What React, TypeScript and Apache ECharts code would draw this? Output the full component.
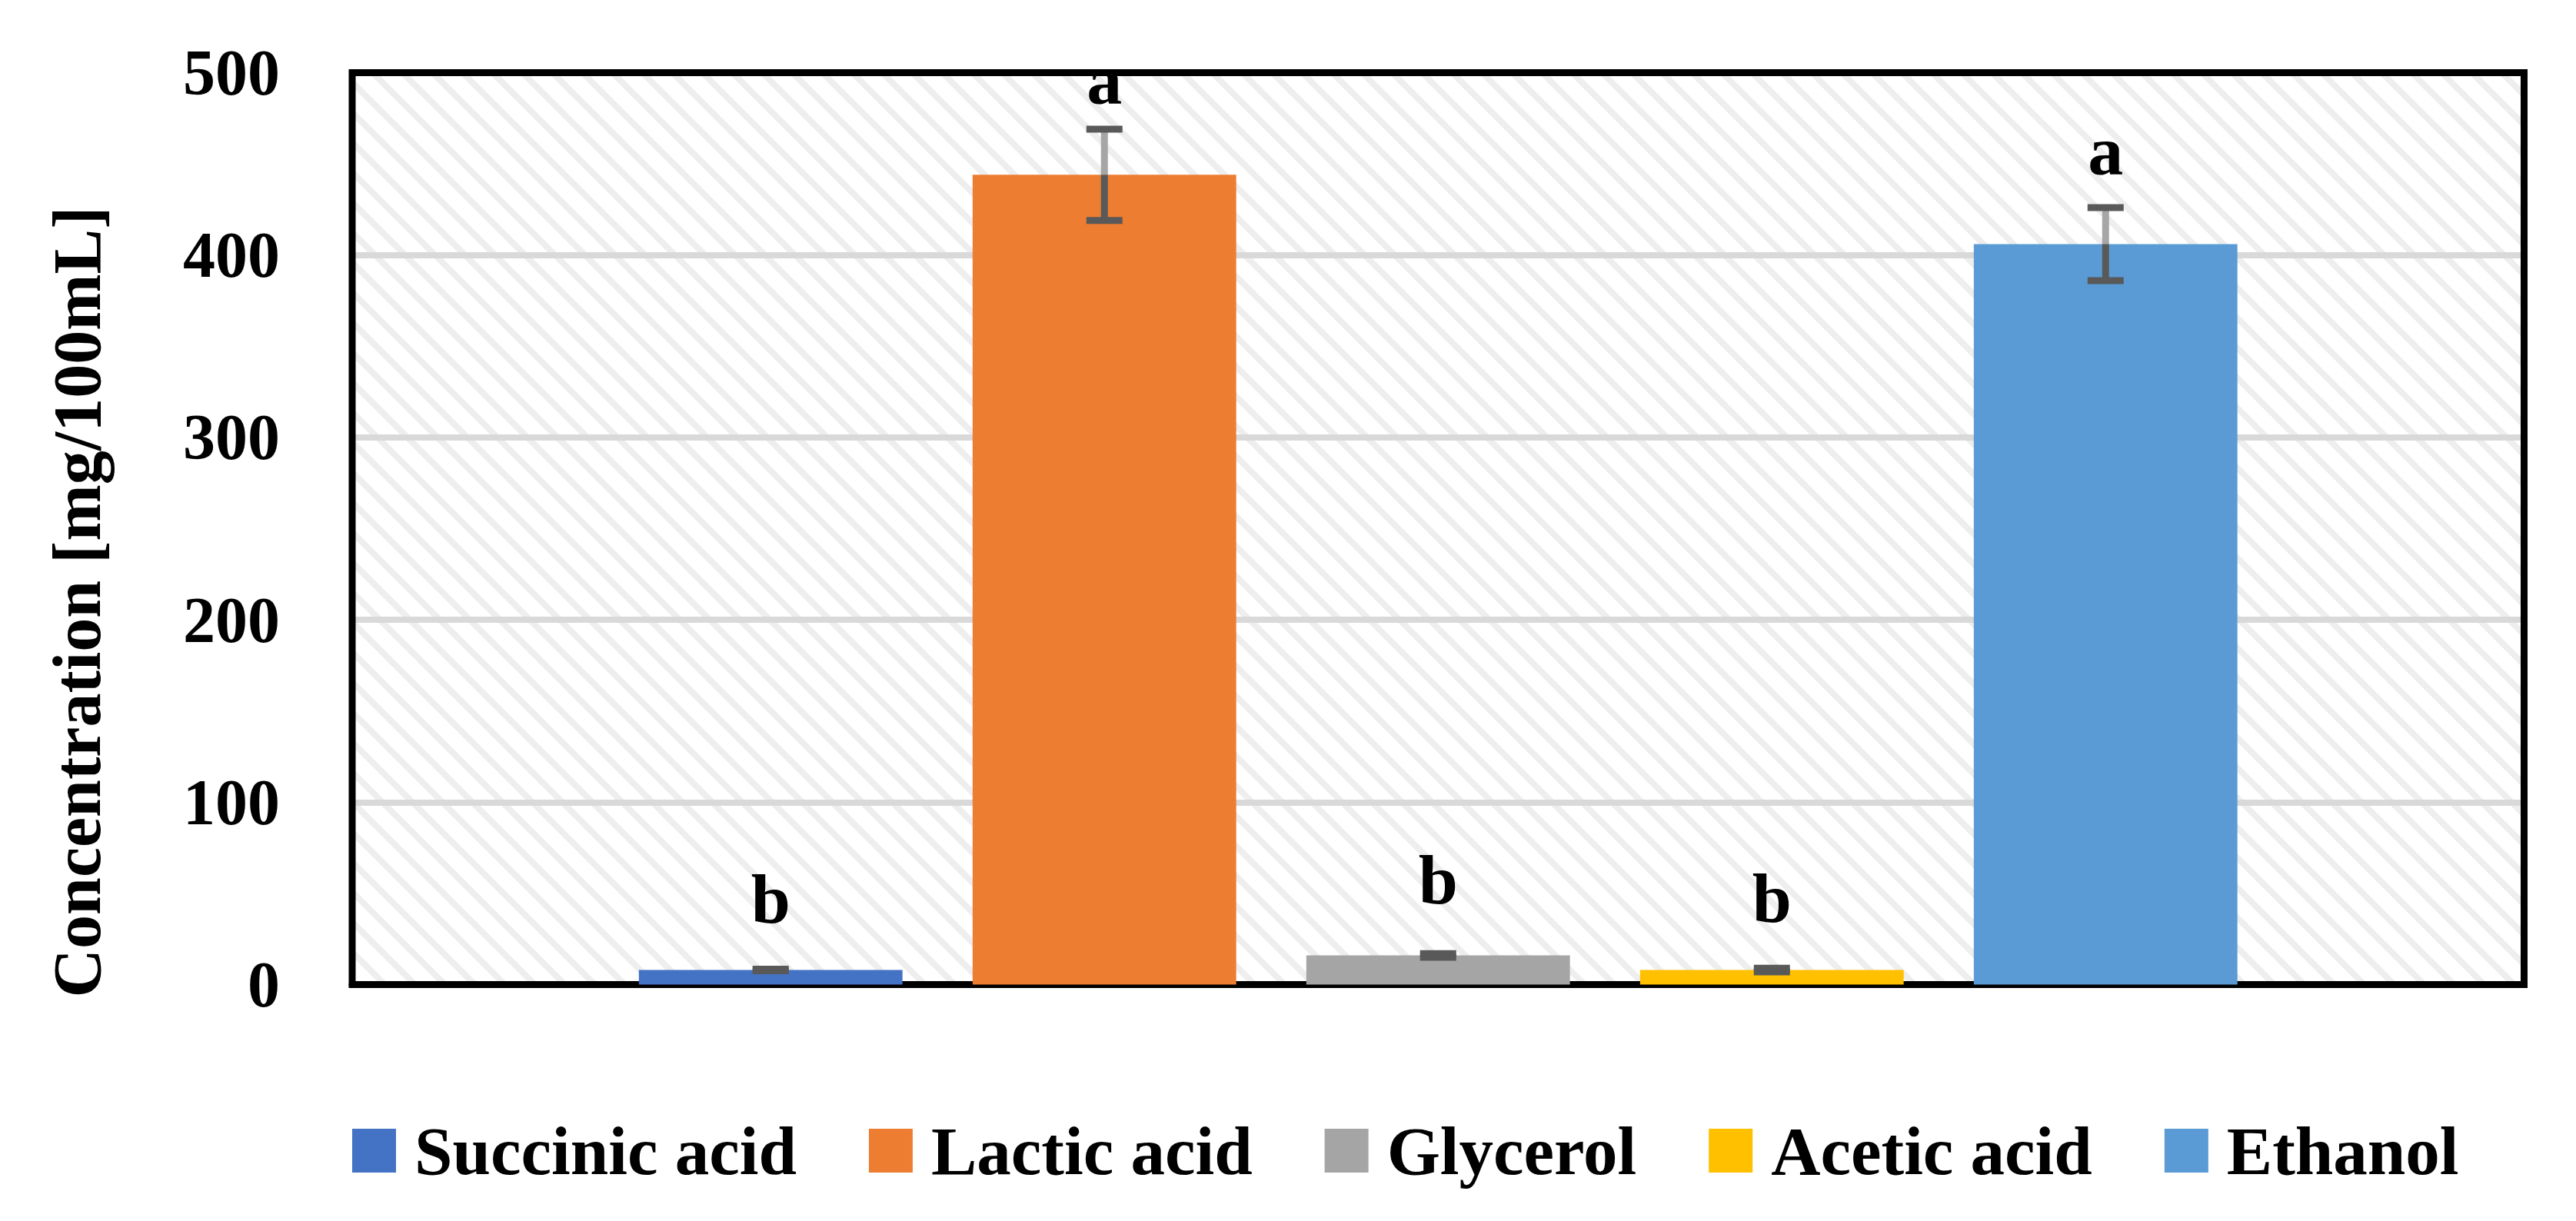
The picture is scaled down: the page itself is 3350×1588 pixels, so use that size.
import React, { useEffect, useRef } from 'react';
import * as echarts from 'echarts';

// ---- data ----
const seriesNames = ['Succinic acid', 'Lactic acid', 'Glycerol', 'Acetic acid', 'Ethanol'];
const meanValues = [8, 444, 16, 8, 406];
const errorValues = [0.4, 25, 1, 1, 20];
const letters = ['b', 'a', 'b', 'b', 'a'];
const letterLevels = [34, 483, 44.5, 34.4, 444]; // baseline of each letter, in mg/100mL
const yMin = 0;
const yMax = 500;
const yInterval = 100;
const yTitle = 'Concentration [mg/100mL]';

// ---- styles ----
const colors = ['#4472C4', '#ED7D31', '#A5A5A5', '#FFC000', '#5B9BD5'];
const FONT = '"Liberation Serif", "Times New Roman", serif';
const GRID = { left: 458, top: 94.5, width: 2824.5, height: 1186 };
const CAT_GAP = 0.264;
const BAR_GAP = 0.266;

function makeHatch() {
  const s = 39;
  const c = document.createElement('canvas');
  c.width = s;
  c.height = s;
  const ctx = c.getContext('2d')!;
  ctx.fillStyle = '#ffffff';
  ctx.fillRect(0, 0, s, s);
  ctx.strokeStyle = '#eeeeee';
  ctx.lineWidth = 8;
  for (const off of [-s, 0, s]) {
    ctx.beginPath();
    ctx.moveTo(off - 5, -5);
    ctx.lineTo(off + s + 5, s + 5);
    ctx.stroke();
  }
  return c;
}

export default function App() {
  const ref = useRef<HTMLDivElement>(null);
  useEffect(() => {
    if (!ref.current) return;
    const chart = echarts.init(ref.current, null, { renderer: 'svg' });
    const n = seriesNames.length;
    const hatch = makeHatch();

    const barSeries = seriesNames.map((name, i) => ({
      name,
      type: 'bar',
      data: [meanValues[i]],
      itemStyle: { color: colors[i] },
      barGap: BAR_GAP * 100 + '%',
      barCategoryGap: CAT_GAP * 100 + '%',
      z: 2,
    }));

    const errSeries = {
      type: 'custom',
      name: 'err',
      z: 3,
      silent: true,
      encode: { x: 0, y: 1 },
      data: meanValues.map((v, i) => [0, v, errorValues[i], i]),
      renderItem: (params: any, api: any) => {
        const i = api.value(3);
        const v = api.value(1);
        const e = api.value(2);
        const base = api.coord([0, v]);
        const catW = api.size([1, 0])[0];
        const band = catW * (1 - CAT_GAP);
        const bw = band / (n + (n - 1) * BAR_GAP);
        const cx = base[0] - band / 2 + i * bw * (1 + BAR_GAP) + bw / 2;
        const yTop = api.coord([0, v + e])[1];
        const yBot = api.coord([0, v - e])[1];
        const yBar = base[1];
        const capHalf = 23.5;
        const fs = 92;
        const ly = api.coord([0, letterLevels[i]])[1] - 0.3375 * fs;
        return {
          type: 'group',
          children: [
            {
              type: 'line',
              shape: { x1: cx, y1: yTop, x2: cx, y2: yBar },
              style: { stroke: '#a6a6a6', lineWidth: 9 },
            },
            {
              type: 'line',
              shape: { x1: cx, y1: yBar, x2: cx, y2: yBot },
              style: { stroke: '#595959', lineWidth: 9 },
            },
            {
              type: 'line',
              shape: { x1: cx - capHalf, y1: yTop, x2: cx + capHalf, y2: yTop },
              style: { stroke: '#595959', lineWidth: 9 },
            },
            {
              type: 'line',
              shape: { x1: cx - capHalf, y1: yBot, x2: cx + capHalf, y2: yBot },
              style: { stroke: '#595959', lineWidth: 9 },
            },
            {
              type: 'text',
              x: cx,
              y: ly,
              style: {
                text: letters[i],
                fill: '#000',
                font: `bold ${fs}px ${FONT}`,
                align: 'center',
                verticalAlign: 'middle',
              },
            },
          ],
        };
      },
    };

    const L = GRID.left;
    const T = GRID.top;
    const R = GRID.left + GRID.width;
    const B = GRID.top + GRID.height;

    chart.setOption({
      animation: false,
      backgroundColor: '#ffffff',
      grid: {
        ...GRID,
        show: true,
        borderWidth: 0,
        backgroundColor: { image: hatch, repeat: 'repeat', imageWidth: 39, imageHeight: 39 },
      },
      legend: {
        data: seriesNames,
        left: 453,
        top: 1447,
        itemWidth: 57,
        itemHeight: 57,
        itemGap: 94,
        icon: 'rect',
        textStyle: {
          fontFamily: FONT,
          fontWeight: 'bold',
          fontSize: 89,
          color: '#000',
          padding: [0, 0, 0, 19],
        },
      },
      xAxis: {
        type: 'category',
        data: [''],
        z: 1,
        axisLine: { show: true, lineStyle: { color: '#000', width: 9 } },
        axisTick: { show: false },
        axisLabel: { show: false },
        splitLine: { show: false },
      },
      yAxis: {
        type: 'value',
        min: yMin,
        max: yMax,
        interval: yInterval,
        axisLine: { show: false },
        axisTick: { show: false },
        axisLabel: {
          margin: 94,
          fontFamily: FONT,
          fontWeight: 'bold',
          fontSize: 84,
          color: '#000',
        },
        splitLine: { lineStyle: { color: '#d9d9d9', width: 8 } },
      },
      graphic: [
        {
          type: 'polyline',
          z: 10,
          silent: true,
          shape: { points: [[L, B + 4.5], [L, T], [R, T], [R, B + 4.5]] },
          style: { stroke: '#000', lineWidth: 9, fill: 'none', lineJoin: 'miter' },
        },
        {
          type: 'text',
          z: 10,
          x: 100,
          y: 783,
          rotation: Math.PI / 2,
          style: {
            text: yTitle,
            fill: '#000',
            font: `bold 88px ${FONT}`,
            align: 'center',
            verticalAlign: 'middle',
          },
        },
      ],
      series: [...barSeries, errSeries],
    });
    return () => chart.dispose();
  }, []);
  return (
    <div
      ref={ref}
      style={{ position: 'fixed', left: 0, top: 0, width: 3350, height: 1588 }}
    />
  );
}
